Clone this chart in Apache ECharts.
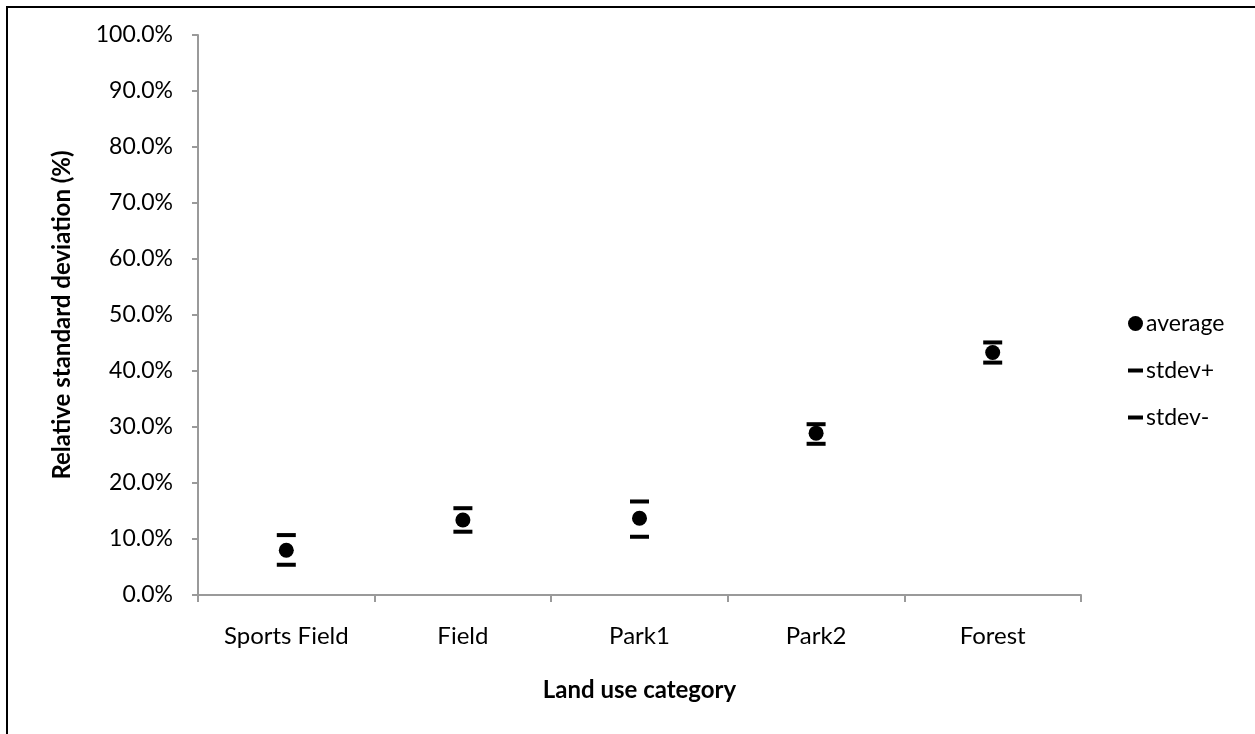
<!DOCTYPE html>
<html lang="en">
<head>
  <meta charset="UTF-8">
  <title>Relative standard deviation</title>
  <style>
    html, body { margin: 0; padding: 0; background: #fff; }
    #chart { width: 1255px; height: 734px; }
  </style>
  <script src="https://cdn.jsdelivr.net/npm/echarts@6/dist/echarts.min.js"></script>
</head>
<body>
  <div id="chart"></div>
  <script>
    // 数据
    const categories = ['Sports Field', 'Field', 'Park1', 'Park2', 'Forest'];
    const average = [8.0, 13.4, 13.7, 28.9, 43.3];
    const stdevPlus = [10.7, 15.5, 16.7, 30.5, 45.1];
    const stdevMinus = [5.4, 11.3, 10.4, 27.0, 41.5];

    const FONT = 'Lato';
    const dash = 'path://M0,0H15V4H0Z';

    let chart = echarts.init(document.getElementById('chart'));
    let option = {
      animation: false,
      textStyle: { fontFamily: FONT, color: '#000' },
      graphic: [{
        type: 'rect',
        shape: { x: 7, y: 7, width: 3000, height: 3000 },
        style: { fill: 'none', stroke: '#000', lineWidth: 2 },
        silent: true
      }],
      grid: { left: 198, top: 35, right: 174, bottom: 139 },
      legend: {
        orient: 'vertical',
        left: 1123,
        top: 307,
        itemWidth: 15,
        itemHeight: 15,
        itemGap: 24,
        textStyle: { fontFamily: FONT, fontSize: 23, color: '#000', padding: [0, 0, 0, -2] },
        data: [
          { name: 'average', icon: 'circle' },
          { name: 'stdev+', icon: dash },
          { name: 'stdev-', icon: dash }
        ]
      },
      xAxis: {
        type: 'category',
        data: categories,
        name: 'Land use category',
        nameLocation: 'middle',
        nameGap: 83,
        nameTextStyle: { fontFamily: FONT, fontSize: 24, fontWeight: 'bold', color: '#000' },
        axisLine: { lineStyle: { color: '#9a9a9a', width: 2 } },
        axisTick: { show: true, length: 7, lineStyle: { color: '#9a9a9a', width: 2 } },
        axisLabel: { fontFamily: FONT, fontSize: 24, color: '#000', margin: 29 },
        splitLine: { show: false }
      },
      yAxis: {
        type: 'value',
        min: 0,
        max: 100,
        interval: 10,
        name: 'Relative standard deviation (%)',
        nameLocation: 'middle',
        nameGap: 124,
        nameTextStyle: { fontFamily: FONT, fontSize: 24, fontWeight: 'bold', color: '#000' },
        axisLine: { show: true, lineStyle: { color: '#9a9a9a', width: 2 } },
        axisTick: { show: true, length: 6, lineStyle: { color: '#9a9a9a', width: 2 } },
        axisLabel: {
          fontFamily: FONT, fontSize: 23, color: '#000', margin: 25,
          formatter: function (v) { return v.toFixed(1) + '%'; }
        },
        splitLine: { show: false }
      },
      series: [
        {
          name: 'average',
          type: 'scatter',
          symbol: 'circle',
          symbolSize: 15,
          itemStyle: { color: '#000', opacity: 1 },
          data: average,
          z: 3
        },
        {
          name: 'stdev+',
          type: 'scatter',
          symbol: 'rect',
          symbolSize: [19, 4],
          itemStyle: { color: '#000', opacity: 1 },
          data: stdevPlus
        },
        {
          name: 'stdev-',
          type: 'scatter',
          symbol: 'rect',
          symbolSize: [19, 4],
          itemStyle: { color: '#000', opacity: 1 },
          data: stdevMinus
        }
      ]
    };
    chart.setOption(option);
  </script>
</body>
</html>
